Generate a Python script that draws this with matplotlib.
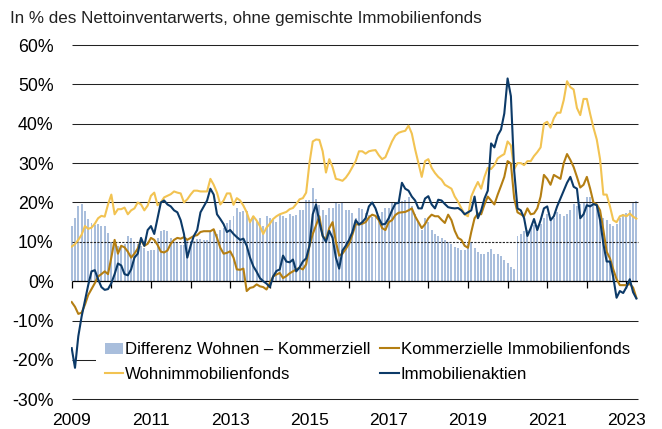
import matplotlib
matplotlib.use('Agg')
import matplotlib.pyplot as plt
from matplotlib.patches import Patch
from matplotlib.lines import Line2D
import numpy as np

# monthly values in %, Jan 2009 - Apr 2023
start_year = 2009

wohn = [
    8.8, 9.4, 10.5, 11.8, 14.0, 13.3, 13.6, 14.6, 16.0, 16.6, 16.4, 19.5,
    22.0, 17.0, 18.3, 18.3, 18.7, 17.0, 18.0, 18.5, 20.0, 19.5, 18.0, 19.2,
    21.7, 22.5, 19.3, 20.0, 21.3, 21.7, 22.1, 22.8, 22.5, 22.3, 20.0, 20.8,
    22.0, 23.0, 23.0, 22.8, 22.8, 22.8, 26.0, 24.5, 22.5, 19.5, 20.5, 22.3,
    22.3, 19.4, 21.1, 20.5, 19.2, 17.5, 15.0, 16.5, 15.4, 14.0, 12.0, 13.6,
    14.6, 15.8, 16.5, 17.0, 17.3, 17.6, 18.3, 18.6, 19.6, 20.8, 21.1, 22.5,
    30.0, 35.5, 36.0, 35.9, 33.0, 27.6, 31.0, 29.0, 26.0, 25.8, 25.5, 26.3,
    27.5, 29.0, 30.5, 33.0, 33.0, 32.4, 33.0, 33.2, 33.3, 32.0, 31.0, 31.5,
    33.5, 35.5, 37.0, 37.7, 38.0, 38.2, 39.5, 37.5, 33.5, 30.0, 26.5, 30.5,
    31.0, 28.8, 27.5, 26.5, 25.8, 24.5, 24.0, 23.5, 21.5, 20.2, 18.5, 17.0,
    16.5, 21.5, 23.5, 25.2, 23.5, 26.5, 28.8, 28.5, 29.5, 31.2, 31.8, 32.3,
    35.5, 34.5, 28.5, 30.0, 30.0, 29.5, 30.5, 30.5, 31.8, 32.8, 34.0, 40.0,
    40.5, 39.0, 41.4, 42.8, 42.8, 46.0, 50.8, 49.3, 48.7, 44.0, 42.2, 46.3,
    46.3, 42.5, 39.0, 36.0, 31.0, 22.0, 22.0, 19.0, 15.5, 15.0, 16.5, 16.8,
    16.5, 17.2, 16.4, 15.9,
]

kommerziell = [
    -5.3, -6.5, -8.3, -8.0, -6.0, -3.5, -2.0, -0.5, 1.2, 1.8, 2.5, 1.8,
    6.0, 10.5, 7.0, 9.0, 8.6, 7.5, 6.0, 7.0, 8.3, 10.5, 9.0, 9.5,
    11.0, 10.5, 9.2, 7.5, 7.3, 7.8, 9.5, 10.5, 11.0, 10.8, 11.2, 10.5,
    11.0, 11.5, 11.7, 12.5, 12.7, 12.7, 12.7, 13.2, 11.0, 8.5, 7.0, 7.2,
    7.6, 6.0, 3.0, 2.9, 3.2, -2.5, -1.7, -1.5, -0.8, -1.3, -1.5, -2.1,
    -0.5, 1.2, 1.7, 2.1, 0.8, 1.3, 2.0, 2.5, 3.0, 3.4, 3.0, 4.3,
    9.0, 12.0, 14.2, 16.5, 11.5, 10.5, 13.5, 15.0, 10.0, 6.5, 7.0, 8.2,
    9.5, 11.8, 14.5, 14.4, 14.6, 15.0, 16.2, 16.9, 16.6, 15.5, 13.5, 13.0,
    15.0, 15.5, 16.8, 17.4, 17.5, 17.6, 18.0, 18.5, 16.5, 15.0, 13.5, 14.5,
    16.0, 16.9, 16.5, 16.5, 15.6, 14.8, 16.9, 15.5, 12.8, 11.0, 10.5, 9.0,
    8.5, 12.5, 16.0, 17.2, 17.0, 19.5, 21.5, 20.5, 19.5, 22.0, 24.2, 26.5,
    30.5, 29.9, 21.0, 17.5, 17.0, 16.5, 18.5, 17.0, 17.2, 18.5, 21.5, 27.0,
    26.0, 24.5, 27.0, 26.5, 26.0, 30.0, 32.3, 30.8, 29.0, 26.5, 23.8, 24.5,
    26.5, 23.5, 20.0, 19.5, 18.0, 13.0, 7.5, 5.8, 3.0, 0.5, -1.0, -1.0,
    -1.0, -0.7, -1.6, -4.2,
]

aktien = [
    -17.0, -22.0, -14.0, -9.0, -5.0, -1.0, 2.5, 2.8, 0.5, -1.5, -2.2, -2.0,
    -0.5, 1.8, 4.5, 4.0, 1.8, 1.5, 3.0, 6.0, 7.0, 11.0, 9.0, 13.0,
    14.0, 12.0, 16.0, 20.0, 20.5, 19.5, 19.0, 18.0, 17.5, 15.5, 12.0, 6.0,
    9.0, 11.5, 13.0, 17.5, 19.0, 20.5, 23.5, 22.0, 17.0, 15.8, 14.5, 12.5,
    13.0, 12.0, 11.2, 10.5, 10.8, 9.0, 6.0, 3.8, 2.4, 0.8, 0.0, -0.6,
    -1.5, 1.2, 2.6, 3.0, 6.5, 5.0, 4.8, 5.5, 2.5, 3.5, 5.0, 5.8,
    9.0, 17.0, 19.5, 15.0, 11.5, 10.0, 12.8, 11.0, 6.0, 3.2, 7.8, 9.0,
    10.5, 12.5, 15.5, 14.4, 15.0, 16.0, 19.0, 20.0, 18.5, 16.0, 14.4, 14.6,
    16.0, 18.0, 19.7, 19.9, 25.0, 23.5, 23.0, 21.5, 20.5, 18.5, 18.5, 21.0,
    21.6, 19.5, 18.5, 20.7, 20.5, 19.6, 18.8, 18.6, 18.5, 18.6, 18.0, 17.0,
    17.5, 18.0, 21.5, 16.0, 18.0, 21.0, 23.0, 35.0, 34.0, 37.0, 38.5, 42.6,
    51.5, 47.0, 28.0, 18.5, 18.0, 16.0, 11.5, 13.5, 15.8, 13.0, 15.5, 18.5,
    19.0, 15.5, 16.5, 19.0, 21.0, 23.0, 25.0, 26.5, 24.0, 23.5, 16.0, 17.0,
    19.3, 19.0, 19.6, 19.3, 15.5, 9.5, 5.0, 5.0, 1.0, -4.2, -2.5, -3.0,
    -1.5, 0.5, -2.8, -4.4,
]

differenz = [
    14.0, 16.0, 19.0, 19.7, 17.8, 15.7, 14.8, 14.4, 14.6, 14.0, 14.0, 12.3,
    10.0, 9.5, 9.0, 9.0, 9.5, 11.4, 11.0, 10.0, 9.5, 9.0, 8.5, 7.6,
    8.0, 8.0, 11.0, 12.7, 13.1, 12.8, 11.0, 10.0, 9.7, 9.3, 9.3, 10.6,
    10.2, 10.2, 10.6, 10.6, 10.5, 10.5, 12.5, 13.0, 12.0, 13.0, 13.5, 14.8,
    15.5, 16.5, 18.6, 17.5, 17.8, 17.8, 15.6, 16.5, 15.0, 16.0, 14.0, 16.5,
    16.0, 15.5, 15.0, 16.9, 16.5, 16.0, 17.0, 16.5, 16.8, 18.2, 18.0, 20.7,
    20.7, 23.7, 21.0, 19.4, 18.0, 16.9, 18.5, 18.5, 19.9, 19.5, 19.9, 18.1,
    18.0, 17.2, 16.0, 18.6, 18.4, 17.4, 16.8, 16.3, 16.7, 16.5, 17.5, 18.5,
    18.5, 20.0, 20.2, 20.3, 20.5, 20.6, 21.5, 19.0, 17.0, 15.0, 13.0, 16.0,
    15.0, 13.0, 12.0, 11.5, 11.0, 10.5, 10.0, 9.5, 8.7, 8.5, 8.0, 8.0,
    9.5, 10.0, 8.5, 7.5, 7.0, 7.0, 7.5, 8.3, 6.8, 7.0, 6.5, 5.3,
    4.5, 3.6, 3.2, 11.5, 12.0, 12.7, 13.0, 13.5, 14.4, 14.3, 14.5, 16.0,
    17.0, 16.0, 16.0, 17.5, 17.0, 16.5, 17.0, 18.0, 19.5, 19.0, 19.5, 20.0,
    21.5, 21.5, 20.5, 19.0, 17.5, 16.0, 15.6, 14.5, 14.0, 14.5, 16.0, 17.0,
    17.3, 18.0, 20.0, 20.3,
]

ytick_values = [-30, -20, -10, 0, 10, 20, 30, 40, 50, 60]
xtick_years = [2009, 2011, 2013, 2015, 2017, 2019, 2021, 2023]
legend_labels = ['Differenz Wohnen \u2013 Kommerziell', 'Wohnimmobilienfonds',
                 'Kommerzielle Immobilienfonds', 'Immobilienaktien']
title = 'In % des Nettoinventarwerts, ohne gemischte Immobilienfonds'

c_bar = '#a9bedc'
c_wohn = '#f2c352'
c_komm = '#b47e12'
c_akt = '#0c3a68'

plt.rcParams['font.family'] = ['Liberation Sans', 'DejaVu Sans']

x = start_year + np.arange(len(wohn)) / 12.0
x_end = x[-1] + 0.03

fig = plt.figure(figsize=(6.62, 4.29), dpi=100)
ax = fig.add_axes([0.1071, 0.0692, 0.8560, 0.8259])
ax.set_xlim(2008.98, 2023.28)
ax.set_ylim(-30, 60)

ax.bar(x, differenz, width=0.6 / 12, color=c_bar, linewidth=0, zorder=1)

# horizontal rules
for v in ytick_values:
    if v == 0:
        continue
    if v == 10:
        ax.hlines(v, start_year, x_end, color='#222222', lw=0.8,
                  linestyles=(0, (2, 1.2)), zorder=2, clip_on=False)
    else:
        ax.hlines(v, start_year, x_end, color='#222222', lw=0.75,
                  zorder=2, clip_on=False)

# zero line with yearly ticks
ax.hlines(0, start_year, x_end, color='black', lw=0.9, zorder=2)
ax.vlines(np.arange(2009, 2024), -1.8, 0, color='black', lw=0.9, zorder=2)

ax.plot(x, wohn, color=c_wohn, lw=1.5, zorder=3)
ax.plot(x, kommerziell, color=c_komm, lw=1.5, zorder=4)
ax.plot(x, aktien, color=c_akt, lw=1.5, zorder=5)

for s in ax.spines.values():
    s.set_visible(False)
ax.set_yticks(ytick_values)
ax.set_yticklabels([f'{v}%' for v in ytick_values], fontsize=12.8)
ax.set_xticks(xtick_years)
ax.set_xticklabels([str(y) for y in xtick_years], fontsize=12.6)
ax.tick_params(axis='y', length=0, pad=12.5)
ax.tick_params(axis='x', length=0, pad=10)

handles = [Patch(facecolor=c_bar, edgecolor='none'),
           Line2D([], [], color=c_wohn, lw=1.5),
           Line2D([], [], color=c_komm, lw=1.5),
           Line2D([], [], color=c_akt, lw=1.5)]
ax.legend(handles, legend_labels, ncol=2, loc='upper left',
          bbox_to_anchor=(0.0436, 0.187), frameon=True, fancybox=False,
          edgecolor='none', facecolor='white', framealpha=1, fontsize=12.1,
          handlelength=1.1, handletextpad=0.1, columnspacing=0.6,
          labelspacing=0.55, borderpad=0.55, borderaxespad=0)

fig.text(10 / 662, 1 - 23 / 429, title, fontsize=12.25, va='baseline', ha='left',
         color='#222222')

fig.savefig('out.png', dpi=100)
